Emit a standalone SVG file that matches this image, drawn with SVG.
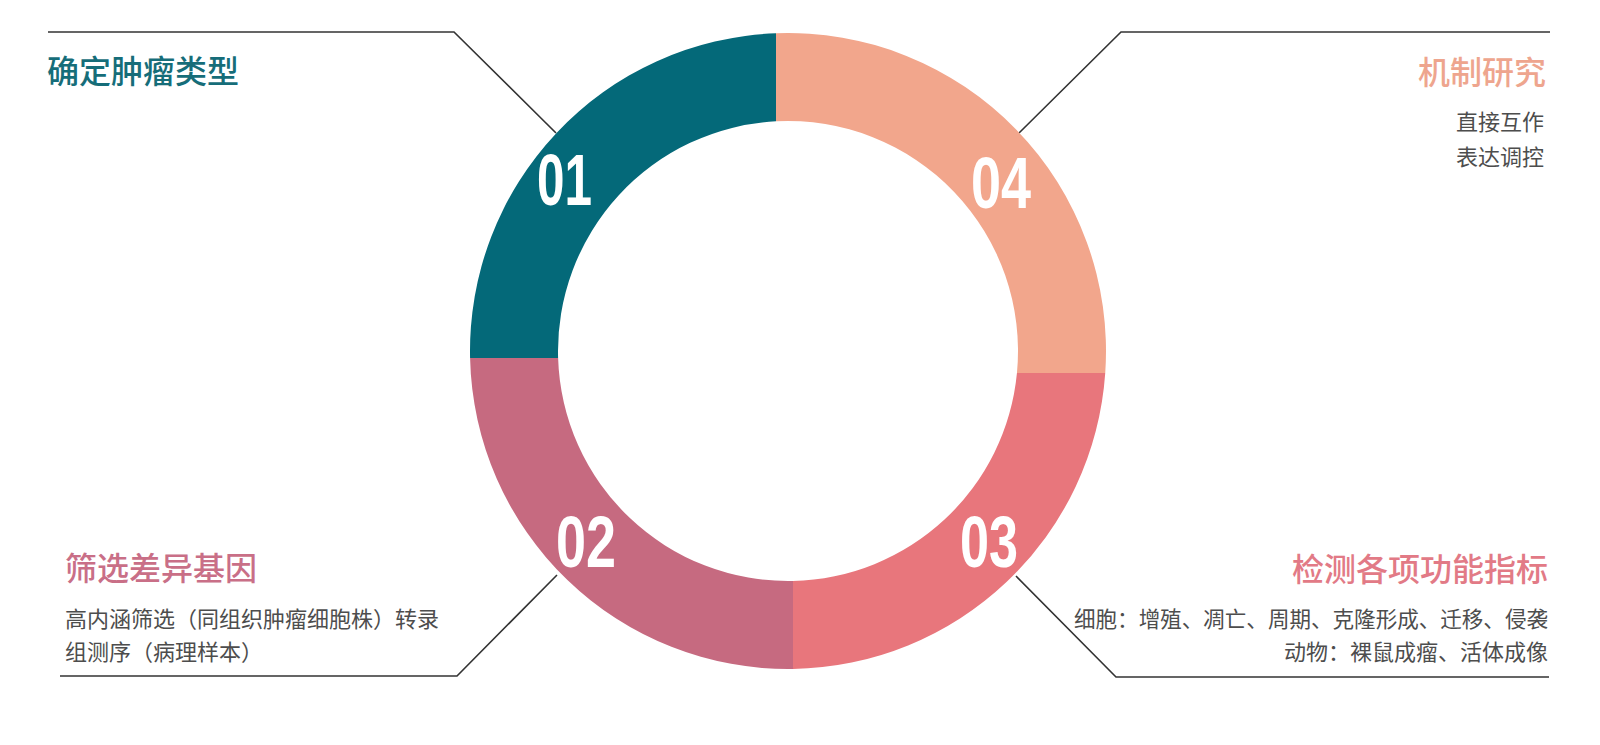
<svg xmlns="http://www.w3.org/2000/svg" width="1600" height="745" viewBox="0 0 1600 745">
<style>
.t{font-family:"Noto Sans CJK SC","Noto Sans",sans-serif;font-size:32px;font-weight:500}
.s{font-family:"Noto Sans CJK SC","Noto Sans",sans-serif;font-size:22px;fill:#4d4d4d}
.n{font-family:"Liberation Sans",Arial,sans-serif;font-size:72px;font-weight:bold;fill:#fff}
.c{fill:none;stroke:#333;stroke-width:1.6}
</style>
<rect width="1600" height="745" fill="#fff"/>
<g id="connectors">
<polyline class="c" points="48,32 454,32 556,133"/>
<polyline class="c" points="1550,32 1121,32 1019,133"/>
<polyline class="c" points="60,676 457,676 557,575"/>
<polyline class="c" points="1549,677 1116,677 1016,576"/>
</g>
<g id="node01">
<path d="M470.08 358 A318 318 0 0 1 776 33.23 L776 121.31 A230 230 0 0 0 558.11 358 Z" fill="#046979"/>
<text class="n" x="537" y="205" textLength="55" lengthAdjust="spacingAndGlyphs">01</text>
<text class="t" x="47" y="83" fill="#166d79">确定肿瘤类型</text>
</g>
<g id="node04">
<path d="M776 33.23 A318 318 0 0 1 1105.24 373 L1016.95 373 A230 230 0 0 0 776 121.31 Z" fill="#f2a68c"/>
<text class="n" x="971" y="208" textLength="60" lengthAdjust="spacingAndGlyphs">04</text>
<text class="t" x="1546" y="84" fill="#eea58e" text-anchor="end">机制研究</text>
<text class="s" x="1544" y="130" text-anchor="end">直接互作</text>
<text class="s" x="1544" y="165" text-anchor="end">表达调控</text>
</g>
<g id="node03">
<path d="M1105.24 373 A318 318 0 0 1 793 668.96 L793 580.95 A230 230 0 0 0 1016.95 373 Z" fill="#e8767c"/>
<text class="n" x="960" y="567" textLength="58" lengthAdjust="spacingAndGlyphs">03</text>
<text class="t" x="1548" y="581" fill="#e27a86" text-anchor="end">检测各项功能指标</text>
<text class="s" x="1548" y="627" text-anchor="end" textLength="474" lengthAdjust="spacingAndGlyphs">细胞：增殖、凋亡、周期、克隆形成、迁移、侵袭</text>
<text class="s" x="1548" y="660" text-anchor="end">动物：裸鼠成瘤、活体成像</text>
</g>
<g id="node02">
<path d="M793 668.96 A318 318 0 0 1 470.08 358 L558.11 358 A230 230 0 0 0 793 580.95 Z" fill="#c66a80"/>
<text class="n" x="556" y="567" textLength="60" lengthAdjust="spacingAndGlyphs">02</text>
<text class="t" x="65" y="580" fill="#c96f87">筛选差异基因</text>
<text class="s" x="65" y="627">高内涵筛选（同组织肿瘤细胞株）转录</text>
<text class="s" x="65" y="660">组测序（病理样本）</text>
</g>
</svg>
